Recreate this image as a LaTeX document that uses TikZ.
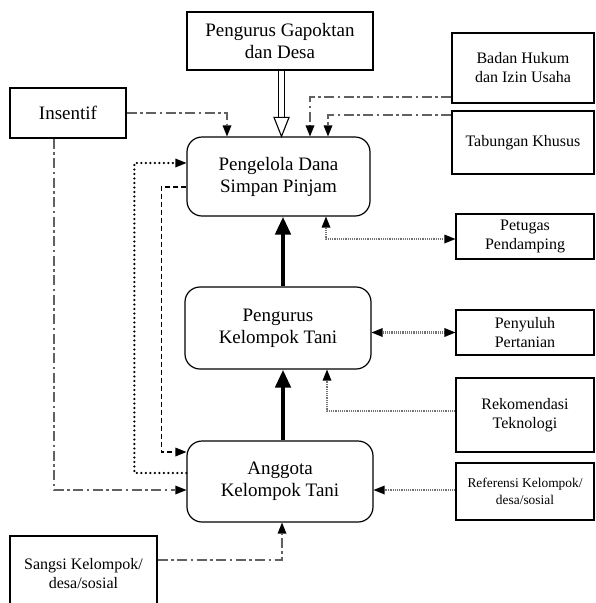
\documentclass[tikz,border=0pt]{standalone}
\usepackage{fontspec}
\setmainfont{Liberation Serif}
\usetikzlibrary{arrows.meta}
\begin{document}
\begin{tikzpicture}[x=1pt,y=-1pt,
  box/.style={draw=black,line width=1.2pt,inner sep=0pt,align=center,fill=white},
  rbox/.style={box,rounded corners=15pt},
  big/.style={font=\fontsize{19}{22}\selectfont},
  small/.style={font=\fontsize{16}{19}\selectfont},
  tiny/.style={font=\fontsize{13.4}{17}\selectfont},
  tp/.style={Triangle[width=9pt,length=11pt,black,line width=0pt]},
  tip/.style={-{Triangle[width=9pt,length=11pt,black,line width=0pt]}},
  both/.style={{Triangle[width=9pt,length=11pt,black,line width=0pt]}-{Triangle[width=9pt,length=11pt,black,line width=0pt]}},
  dd/.style={draw=black!62,line width=1.7pt,dash pattern=on 10pt off 3.5pt on 2.5pt off 3.5pt},
  dots/.style={draw=black,line width=2.4pt,dash pattern=on 0pt off 4.5pt,line cap=round},
  fine/.style={draw=black!55,line width=2.4pt,dash pattern=on 1.2pt off 1pt},
  dsh/.style={draw=black,line width=1.4pt,dash pattern=on 5pt off 3pt},
  thick arrow/.style={line width=4.5pt,-{Triangle[width=15pt,length=18pt]}}
]
\useasboundingbox (0,0) rectangle (596,603);
\fill[white] (0,0) rectangle (596,603);

\node[box,big,minimum width=186pt,minimum height=58pt] (gap) at (280,41) {Pengurus Gapoktan\\dan Desa};
\node[box,big,minimum width=116pt,minimum height=50pt] (ins) at (68,113) {Insentif};
\node[rbox,big,minimum width=183pt,minimum height=79pt] (pdsp) at (278.5,176.5) {Pengelola Dana\\Simpan Pinjam};
\node[box,small,minimum width=142pt,minimum height=70pt] (badan) at (523,68) {Badan Hukum\\dan Izin Usaha};
\node[box,small,minimum width=142pt,minimum height=63pt] (tab) at (523,142.5) {Tabungan Khusus};
\node[box,small,minimum width=138pt,minimum height=45pt] (pet) at (525,236.5) {Petugas\\Pendamping};
\node[rbox,big,minimum width=186pt,minimum height=82pt] (pkt) at (278,328) {Pengurus\\Kelompok Tani};
\node[box,small,minimum width=138pt,minimum height=45pt] (peny) at (525,332.5) {Penyuluh\\Pertanian};
\node[box,small,minimum width=138pt,minimum height=74pt] (rek) at (525,415) {Rekomendasi\\Teknologi};
\node[rbox,big,minimum width=186pt,minimum height=81pt] (akt) at (280,481.5) {Anggota\\Kelompok Tani};
\node[box,tiny,minimum width=138pt,minimum height=57pt] (ref) at (525,491.5) {Referensi Kelompok/\\desa/sosial};
\node[box,small,minimum width=147pt,minimum height=76pt] (san) at (83.5,574) {Sangsi Kelompok/\\desa/sosial};

% hollow arrow from Gapoktan
\coordinate (h1) at ([xshift=1.5pt]gap.south);
\coordinate (h2) at ([xshift=3pt]pdsp.north);
\draw[line width=1.1pt] ([xshift=-3pt]h1) -- ([xshift=-3pt,yshift=18pt]h2);
\draw[line width=1.1pt] ([xshift=3pt]h1) -- ([xshift=3pt,yshift=18pt]h2);
\draw[line width=1.1pt,fill=white,line join=miter] ([xshift=-7.5pt,yshift=19pt]h2) -- (h2) -- ([xshift=7.5pt,yshift=19pt]h2) -- cycle;

% dash-dot inputs
\draw[dd,tip] (ins.east) -| ([xshift=-51.5pt]pdsp.north);
\draw[dd,tip] ([yshift=-29pt]badan.west) -| ([xshift=31.5pt]pdsp.north);
\draw[dd,tip] ([yshift=27.5pt]tab.west) -| ([xshift=49.5pt]pdsp.north);
\draw[dd,tip] ([xshift=-14pt]ins.south) |- ([yshift=-8.5pt]akt.west);
\draw[dd,tip] ([yshift=14pt]san.east) -| ([xshift=2pt]akt.south);

% thick arrows
\draw[thick arrow] ([xshift=5pt]pkt.north) -- ([xshift=4.5pt]pdsp.south);
\draw[thick arrow] ([xshift=3pt]akt.north) -- ([xshift=5pt]pkt.south);

% fine dotted connectors
\draw[fine,both] ([xshift=47.5pt]pdsp.south) |- ([yshift=-2.5pt]pet.west);
\draw[fine,both] (pkt.east |- peny.west) -- (peny.west);
\draw[fine,tip] ([yshift=4pt]rek.west) -| ([xshift=49pt]pkt.south);
\draw[fine,tip] ([yshift=1.5pt]ref.west) -- ([yshift=1.5pt]ref.west -| akt.east);

% left loop connectors
\draw[dots,tip] ([yshift=8.5pt]akt.west) -- ++(-52,0) |- ([yshift=13.5pt]pdsp.west);
\draw[dsh,tip] ([yshift=-10.5pt]pdsp.west) -- ++(-25,0) |- ([yshift=29.5pt]akt.west);
\end{tikzpicture}
\end{document}
